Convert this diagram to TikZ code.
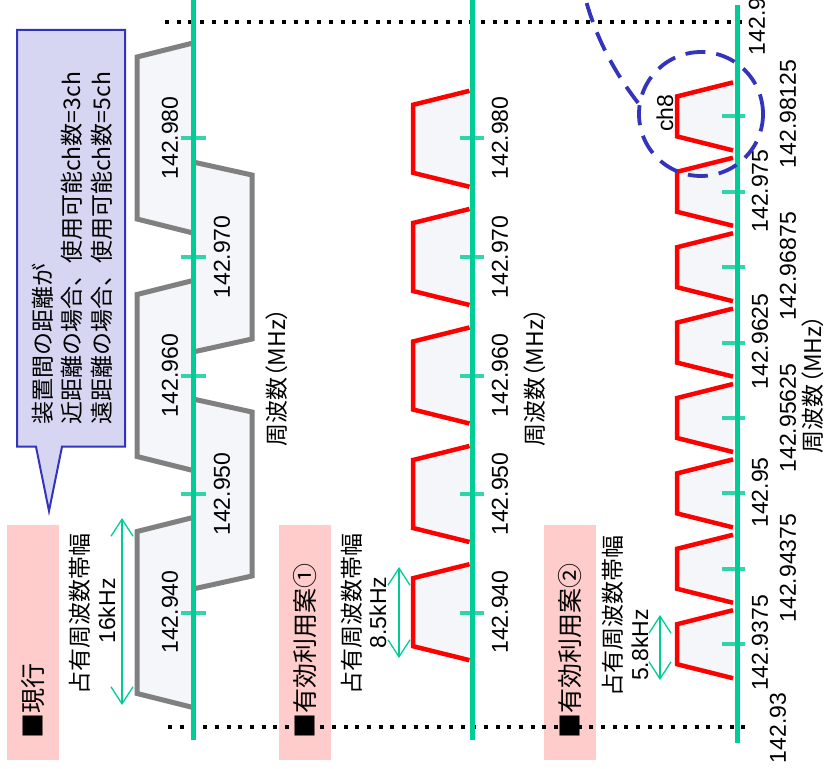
\documentclass[tikz,border=0pt]{standalone}
\usepackage{fontspec}
\setmainfont{Liberation Sans}
\newfontfamily\jp{Noto Sans CJK JP}
\newfontfamily\jpp[RawFeature={+palt}]{Noto Sans CJK JP}
\usepackage{xcolor}
\usepackage{tikz}
\usetikzlibrary{arrows.meta}
\usetikzlibrary{calc}

\definecolor{axisgreen}{RGB}{0,204,150}
\definecolor{chgray}{RGB}{128,128,128}
\definecolor{chred}{RGB}{255,0,0}
\definecolor{chfill}{RGB}{245,246,250}
\definecolor{boxpink}{RGB}{255,204,204}
\definecolor{callfill}{RGB}{214,214,242}
\definecolor{callblue}{RGB}{51,51,187}

\tikzset{
  freqaxis/.style={
    draw=axisgreen,
    line width=5pt
  },
  tickmark/.style={
    draw=axisgreen,
    line width=4pt,
    opacity=0.8
  },
  boundline/.style={
    line width=4pt,
    dash pattern=on 4pt off 7.7pt
  },
  oldch/.style={
    draw=chgray,
    fill=chfill,
    line width=5pt
  },
  newch/.style={
    draw=chred,
    fill=chfill,
    line width=4.5pt
  },
  freq/.style={
    rotate=90,
    inner sep=0pt,
    font=\fontsize{23}{23}\selectfont
  },
  jplabel/.style={
    rotate=90,
    inner sep=0pt,
    align=left,
    font=\jp\fontsize{23}{29.5}\selectfont
  },
  unitlabel/.style={
    jplabel,
    font=\jpp\fontsize{23}{23}\selectfont
  },
  planbox/.style={
    rotate=90,
    fill=boxpink,
    minimum height=52pt,
    text width=192pt,
    inner xsep=21.5pt,
    inner ysep=0pt,
    align=left,
    font=\jp\fontsize{25}{25}\selectfont
  },
  bwarrow/.style={
    draw=axisgreen,
    line width=1.3pt,
    {Straight Barb[length=17pt,width=22pt]}-{Straight Barb[length=17pt,width=22pt]}
  },
  callout/.style={
    draw=callblue,
    fill=callfill,
    line width=2pt
  },
  chring/.style={
    draw=callblue,
    line width=3.8pt,
    dash pattern=on 20pt off 11pt
  }
}

\begin{document}
\begin{tikzpicture}[x=1pt,y=-1pt]
  \useasboundingbox (0,0) rectangle (832,768);
  \clip (0,0) rectangle (832,768);

  % callout
  \filldraw[callout] (17,30) -- (125,30) -- (125,446.7) -- (62,446.7)
    -- (49,511) -- (36,446.7) -- (17,446.7) -- cycle;
  \node[jplabel, anchor=west] (note) at (72,425)
    {装置間の距離が\\近距離の場合、使用可能ch数=3ch\\遠距離の場合、使用可能ch数=5ch};

  % plan boxes
  \node[planbox] (planA) at (33,642.5) {■現行};
  \node[planbox] (planB) at (305,642.5) {■有効利用案①};
  \node[planbox] (planC) at (570,642.5) {■有効利用案②};

  % band edges 142.93 / 142.99
  \coordinate (hiL) at (165,22);
  \coordinate (hiR) at (746,22);
  \coordinate (loL) at (168,727);
  \coordinate (loR) at (749,727);
  \draw[boundline] (hiL) -- (hiR);
  \draw[boundline] (loL) -- (loR);

  % current channels (16kHz)
  \foreach \c in {612.5,375.5,138}
    \filldraw[oldch] (193,\c-95) -- (137,\c-81) -- (137,\c+81) -- (193,\c+95);
  \foreach \c in {494,257}
    \filldraw[oldch] (193,\c-95) -- (252,\c-82) -- (252,\c+82) -- (193,\c+95);

  % plan 1 (8.5kHz)
  \foreach \c in {612.2,494,375.5,257,138.8}
    \filldraw[newch] (469.5,\c-48) -- (413,\c-34) -- (413,\c+34) -- (469.5,\c+48);

  % plan 2 (5.8kHz)
  \foreach \k [evaluate=\k as \c using 644.2-75.4*\k] in {0,...,7}
    \filldraw[newch] (733,\c-34) -- (677,\c-20) -- (677,\c+20) -- (733,\c+34);

  % frequency axes
  \coordinate (axAtop) at (193,-5);
  \coordinate (axAbot) at (193,740);
  \coordinate (axBtop) at (472,-5);
  \coordinate (axBbot) at (472,740);
  \coordinate (axCtop) at (737,5);
  \coordinate (axCbot) at (737,743);
  \draw[freqaxis] (axAtop) -- (axAbot);
  \draw[freqaxis] (axBtop) -- (axBbot);
  \draw[freqaxis] (axCtop) -- (axCbot);

  \foreach \c in {612.7,494.1,375.5,256.9,138.3} {
    \draw[tickmark] (181,\c) -- (206,\c);
    \draw[tickmark] (460,\c) -- (484,\c);
  }
  \foreach \k [evaluate=\k as \c using 644.2-75.4*\k] in {0,...,7}
    \draw[tickmark] (722,\c) -- (745,\c);

  % channel labels
  \node[freq] (fA0) at (170,612) {142.940};
  \node[freq] (fA1) at (222,494) {142.950};
  \node[freq] (fA2) at (170,375.5) {142.960};
  \node[freq] (fA3) at (222,257) {142.970};
  \node[freq] (fA4) at (170,138) {142.980};

  \node[freq] (fB0) at (500,612) {142.940};
  \node[freq] (fB1) at (500,494) {142.950};
  \node[freq] (fB2) at (500,375.5) {142.960};
  \node[freq] (fB3) at (500,257) {142.970};
  \node[freq] (fB4) at (500,138) {142.980};

  \node[freq] (fC0) at (760,643) {142.9375};
  \node[freq] (fC1) at (788,568) {142.94375};
  \node[freq] (fC2) at (760,492.5) {142.95};
  \node[freq] (fC3) at (788,418) {142.95625};
  \node[freq] (fC4) at (760,341.5) {142.9625};
  \node[freq] (fC5) at (788,266.5) {142.96875};
  \node[freq] (fC6) at (760,191) {142.975};
  \node[freq] (fC7) at (788,114) {142.98125};
  \node[freq] (fhi) at (757,20) {142.99};
  \node[freq] (flo) at (778,728) {142.93};

  \node[unitlabel] (unitA) at (277,377.5) {周波数（MHz）};
  \node[unitlabel] (unitB) at (535,377.5) {周波数（MHz）};
  \node[unitlabel] (unitC) at (813,384) {周波数（MHz）};

  % occupied bandwidth
  \node[jplabel] (bwA) at (80,613.5) {占有周波数帯幅};
  \node[freq] (bwvA) at (107,611) {16kHz};
  \node[jplabel] (bwB) at (352,613.5) {占有周波数帯幅};
  \node[freq] (bwvB) at (378,612.5) {8.5kHz};
  \node[jplabel] (bwC) at (613,616) {占有周波数帯幅};
  \node[freq] (bwvC) at (640,645) {5.8kHz};

  \coordinate (arA1) at (122,518);
  \coordinate (arA2) at (122,705);
  \coordinate (arB1) at (399,567);
  \coordinate (arB2) at (399,658);
  \coordinate (arC1) at (660,615);
  \coordinate (arC2) at (660,680);
  \draw[bwarrow] (arA1) -- (arA2);
  \draw[bwarrow] (arB1) -- (arB2);
  \draw[bwarrow] (arC1) -- (arC2);

  % ch8 marker
  \node[chring, circle, minimum size=124pt, inner sep=0pt] (ring8) at (701,114) {};
  \node[freq] (ch8) at (665,113) {ch8};
  \coordinate (leadend) at (582,-15);
  \draw[chring] (ring8.170) .. controls (608,64) and (591,25) .. (leadend);
\end{tikzpicture}
\end{document}
